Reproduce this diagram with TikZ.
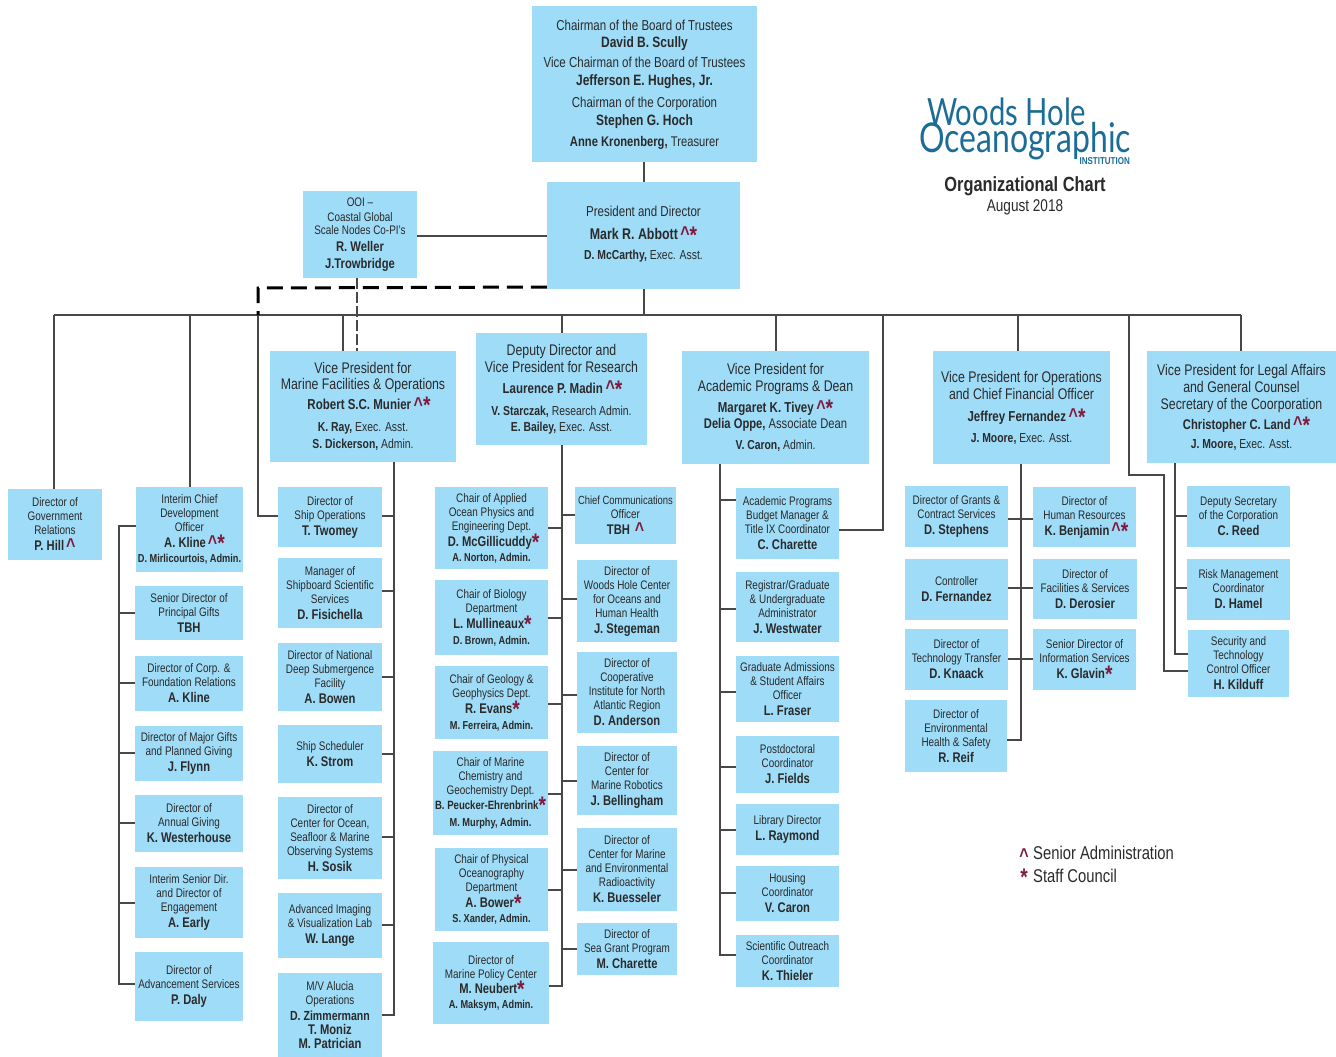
\documentclass[tikz,border=0pt]{standalone}
\usepackage{fontspec}
\setmainfont[FakeStretch=0.8]{Liberation Sans}
\newfontfamily\logofont[FakeStretch=0.78]{Lato}
\definecolor{boxblue}{HTML}{9FDCF8}
\definecolor{markred}{HTML}{7E1B3C}
\definecolor{linegray}{HTML}{484848}
\definecolor{txt}{HTML}{2A2A2A}
\definecolor{logoblue}{HTML}{1B6C97}
\newcommand\szs{\fontsize{12.4}{14}\selectfont}
\newcommand\szb{\fontsize{14.4}{17}\selectfont}
\newcommand\szv{\fontsize{15.4}{17}\selectfont}
\newcommand\nm[1]{{\bfseries\fontsize{14}{14}\selectfont #1}}
\newcommand\bn[1]{{\bfseries\fontsize{15}{15}\selectfont #1}}
\newcommand\bnv[1]{{\bfseries\fontsize{14.4}{15}\selectfont #1}}
\newcommand\ad[1]{{\bfseries\fontsize{11.5}{14}\selectfont #1}}
\newcommand\adb[1]{{\bfseries\fontsize{13}{14}\selectfont #1}}
\newcommand\adr[1]{{\fontsize{13}{14}\selectfont #1}}
\newcommand\mkA{\,\smash{\color{markred}\bfseries\fontsize{20}{15}\selectfont\raisebox{-1.5pt}{\textasciicircum}}}
\newcommand\mkS{\smash{\color{markred}\bfseries\fontsize{24}{15}\selectfont\raisebox{-4pt}{*}}}
\newcommand\sh[1]{\hspace*{#1pt}}
\newcommand\bx[7][]{\pgfmathsetmacro\bw{#5-#3}\pgfmathsetmacro\bh{#6-#4}%
  \node[boxst,minimum width=\bw pt,minimum height=\bh pt,#1] (#2) at ({(#3+#5)/2},{-(#4+#6)/2}) {#7};}
\newcommand\tk[3]{\draw[conn] (#1 |- 0,-#3) -- (#2 |- 0,-#3);}
\tikzset{
  x=1pt,y=1pt,
  boxst/.style={fill=boxblue,inner sep=0pt,align=center,text=txt,font=\szs},
  bigst/.style={font=\szb},
  vpst/.style={font=\szv},
  conn/.style={draw=linegray,line width=1.1pt},
  thindash/.style={draw=linegray,line width=1.1pt,dash pattern=on 11pt off 3pt},
  thickdash/.style={draw=black,line width=3pt,dash pattern=on 16pt off 8pt},
}
\begin{document}
\begin{tikzpicture}
\useasboundingbox (0,0) rectangle (1336,-1057);
% top
\bx[bigst]{chair}{532}{6}{757}{162}{Chairman of the Board of Trustees\\[0pt]\bn{David B. Scully}\\[3pt]Vice Chairman of the Board of Trustees\\[1pt]\bn{Jefferson E. Hughes, Jr.}\\[5pt]Chairman of the Corporation\\[1pt]\bn{Stephen G. Hoch}\\[4pt]{\bfseries\fontsize{14}{14}\selectfont Anne Kronenberg,} {\fontsize{14}{14}\selectfont Treasurer}\\[-15pt]\mbox{}}
\bx[bigst]{pres}{547}{182}{740}{289}{President and Director\\[6pt]{\bfseries\fontsize{15.5}{15}\selectfont Mark R. Abbott}\mkA\mkS\\[3pt]\adb{D. McCarthy,}\adr{ Exec. Asst.}\\[-11pt]\mbox{}}
\bx{ooi}{303}{191}{417}{278}{OOI --\\[1pt]Coastal Global\\[-1pt]Scale Nodes Co-PI's\\[3pt]\nm{R. Weller}\\[3pt]\nm{J.Trowbridge}}
% VPs
\bx[vpst]{vpm}{270}{351}{456}{462}{Vice President for\\[-1pt]Marine Facilities \& Operations\\[3pt]\sh{12}\bnv{Robert S.C. Munier}\mkA\mkS\\[5pt]\adb{K. Ray,}\adr{ Exec. Asst.}\\[0pt]\adb{S. Dickerson,}\adr{ Admin.}}
\bx[vpst]{dep}{476}{333}{647}{445}{Deputy Director and\\[0pt]Vice President for Research\\[4pt]\sh{2}\bnv{Laurence P. Madin}\mkA\mkS\\[5pt]\adb{V. Starczak,}\adr{ Research Admin.}\\[-1pt]\adb{E. Bailey,}\adr{ Exec. Asst.}}
\bx[vpst]{vpa}{682}{351}{869}{464}{Vice President for\\[0pt]Academic Programs \& Dean\\[4pt]\bnv{Margaret K. Tivey}\mkA\mkS\\[-1pt]{\bfseries\fontsize{14}{14}\selectfont Delia Oppe,}{\fontsize{14}{14}\selectfont\ Associate Dean}\\[4pt]\adb{V. Caron,}\adr{ Admin.}}
\bx[vpst]{vpo}{933}{351}{1110}{464}{Vice President for Operations\\[0pt]and Chief Financial Officer\\[5pt]\sh{10}\bnv{Jeffrey Fernandez}\mkA\mkS\\[4pt]\adb{J. Moore,}\adr{ Exec. Asst.}}
\bx[vpst]{vpl}{1147}{351}{1336}{463}{Vice President for Legal Affairs\\[0pt]and General Counsel\\[0pt]Secretary of the Coorporation\\[3pt]\sh{10}{\bfseries\fontsize{14}{15}\selectfont Christopher C. Land}\mkA\mkS\\[2pt]\adb{J. Moore,}\adr{ Exec. Asst.}}
% col 1
\bx{gov}{8}{489}{102}{560}{Director of\\Government\\Relations\\[2pt]\nm{P. Hill}\mkA}
% col 2
\bx{cdo}{136}{487}{243}{572}{Interim Chief\\Development\\Officer\\[2pt]\sh{10}\nm{A. Kline}\mkA\mkS\\[1pt]\ad{D. Mirlicourtois, Admin.}}
\bx{gifts}{135}{586}{243}{640}{Senior Director of\\Principal Gifts\\[2pt]\nm{TBH}}
\bx{corp}{135}{656}{243}{711}{Director of Corp. \&\\Foundation Relations\\[2pt]\nm{A. Kline}}
\bx{major}{135}{726}{243}{781}{Director of Major Gifts\\and Planned Giving\\[2pt]\nm{J. Flynn}}
\bx{annual}{135}{795}{243}{852}{Director of\\Annual Giving\\[2pt]\nm{K. Westerhouse}}
\bx{engage}{135}{867}{243}{938}{Interim Senior Dir.\\and Director of\\Engagement\\[2pt]\nm{A. Early}}
\bx{advance}{135}{952}{243}{1021}{Director of\\Advancement Services\\[2pt]\nm{P. Daly}}
% col 3
\bx{ship}{278}{487}{382}{547}{Director of\\Ship Operations\\[2pt]\nm{T. Twomey}}
\bx{shipb}{278}{558}{382}{628}{Manager of\\Shipboard Scientific\\Services\\[2pt]\nm{D. Fisichella}}
\bx{deep}{278}{643}{382}{711}{Director of National\\Deep Submergence\\Facility\\[2pt]\nm{A. Bowen}}
\bx{sched}{278}{725}{382}{783}{Ship Scheduler\\[2pt]\nm{K. Strom}}
\bx{seafl}{278}{797}{382}{879}{Director of\\Center for Ocean,\\Seafloor \& Marine\\Observing Systems\\[2pt]\nm{H. Sosik}}
\bx{imag}{278}{893}{382}{958}{Advanced Imaging\\\& Visualization Lab\\[2pt]\nm{W. Lange}}
\bx{alucia}{278}{973}{382}{1057}{M/V Alucia\\Operations\\[2pt]{\bfseries\fontsize{13.2}{14}\selectfont D. Zimmermann}\\\nm{T. Moniz}\\\nm{M. Patrician}}
% col 4
\bx{aope}{435}{487}{548}{569}{Chair of Applied\\Ocean Physics and\\Engineering Dept.\\[2pt]\sh{4}\nm{D. McGillicuddy}\mkS\\[1pt]\ad{A. Norton, Admin.}}
\bx{bio}{435}{580}{548}{655}{Chair of Biology\\Department\\[2pt]\sh{2}\nm{L. Mullineaux}\mkS\\[2pt]\ad{D. Brown, Admin.}}
\bx{geo}{435}{666}{548}{739}{Chair of Geology \&\\Geophysics Dept.\\[2pt]\sh{2}\nm{R. Evans}\mkS\\[2pt]\ad{M. Ferreira, Admin.}}
\bx{mchem}{433}{751}{548}{835}{Chair of Marine\\Chemistry and\\Geochemistry Dept.\\[1pt]{\bfseries\fontsize{12}{14}\selectfont B. Peucker-Ehrenbrink}\mkS\\[3pt]\ad{M. Murphy, Admin.}}
\bx{phys}{435}{848}{548}{931}{Chair of Physical\\Oceanography\\Department\\[2pt]\sh{4}\nm{A. Bower}\mkS\\[1pt]\ad{S. Xander, Admin.}}
\bx{mpol}{433}{942}{549}{1024}{Director of\\Marine Policy Center\\[1pt]\sh{2}\nm{M. Neubert}\mkS\\[1pt]\ad{A. Maksym, Admin.}}
% col 5
\bx{comm}{575}{487}{676}{544}{{\fontsize{11.8}{14}\selectfont Chief Communications}\\Officer\\[2pt]\nm{TBH} \mkA}
\bx{wh}{577}{560}{677}{642}{Director of\\Woods Hole Center\\for Oceans and\\Human Health\\[2pt]\nm{J. Stegeman}}
\bx{coop}{577}{652}{677}{733}{Director of\\Cooperative\\Institute for North\\Atlantic Region\\[2pt]\nm{D. Anderson}}
\bx{robo}{577}{746}{677}{815}{Director of\\Center for\\Marine Robotics\\[2pt]\nm{J. Bellingham}}
\bx{radio}{577}{828}{677}{911}{Director of\\Center for Marine\\and Environmental\\Radioactivity\\[2pt]\nm{K. Buesseler}}
\bx{sea}{577}{923}{677}{975}{Director of\\Sea Grant Program\\[2pt]\nm{M. Charette}}
% col 6
\bx{acad}{736}{488}{839}{559}{Academic Programs\\Budget Manager \&\\Title IX Coordinator\\[2pt]\nm{C. Charette}}
\bx{reg}{736}{572}{839}{642}{Registrar/Graduate\\\& Undergraduate\\Administrator\\[2pt]\nm{J. Westwater}}
\bx{grad}{736}{656}{839}{722}{Graduate Admissions\\\& Student Affairs\\Officer\\[2pt]\nm{L. Fraser}}
\bx{post}{736}{736}{839}{793}{Postdoctoral\\Coordinator\\[2pt]\nm{J. Fields}}
\bx{lib}{736}{804}{839}{855}{Library Director\\[2pt]\nm{L. Raymond}}
\bx{hous}{736}{866}{839}{921}{Housing\\Coordinator\\[2pt]\nm{V. Caron}}
\bx{sci}{736}{935}{839}{987}{Scientific Outreach\\Coordinator\\[2pt]\nm{K. Thieler}}
% col 7, 8
\bx{grants}{905}{486}{1008}{547}{Director of Grants \&\\Contract Services\\[2pt]\nm{D. Stephens}}
\bx{ctrl}{905}{559}{1008}{620}{Controller\\[2pt]\nm{D. Fernandez}}
\bx{tech}{905}{629}{1008}{690}{Director of\\Technology Transfer\\[2pt]\nm{D. Knaack}}
\bx{env}{905}{700}{1007}{772}{Director of\\Environmental\\Health \& Safety\\[2pt]\nm{R. Reif}}
\bx{hr}{1033}{487}{1136}{547}{Director of\\Human Resources\\[2pt]\sh{4}\nm{K. Benjamin}\mkA\mkS}
\bx{fac}{1033}{559}{1137}{619}{Director of\\Facilities \& Services\\[2pt]\nm{D. Derosier}}
\bx{info}{1033}{629}{1136}{690}{Senior Director of\\Information Services\\[2pt]\nm{K. Glavin}\mkS}
% col 9
\bx{dsec}{1187}{486}{1290}{547}{Deputy Secretary\\of the Corporation\\[2pt]\nm{C. Reed}}
\bx{risk}{1187}{559}{1290}{620}{Risk Management\\Coordinator\\[2pt]\nm{D. Hamel}}
\bx{sec}{1188}{630}{1289}{697}{Security and\\Technology\\Control Officer\\[2pt]\nm{H. Kilduff}}
% logo & titles
\node[text=logoblue,font=\logofont\fontsize{37.5}{37}\selectfont,anchor=base west,inner sep=0pt] (logoa) at (927,-125) {Woods Hole};
\node[text=logoblue,font=\logofont\fontsize{41}{41}\selectfont,anchor=base west,inner sep=0pt] (logob) at (919,-152) {Oceanographic};
\node[text=logoblue,font=\bfseries\fontsize{10}{10}\selectfont,anchor=base east,inner sep=0pt] (logoc) at (1130,-164) {INSTITUTION};
\node[text=txt,font=\bfseries\fontsize{20.5}{20}\selectfont,inner sep=0pt] (title) at (1025,-186) {Organizational Chart};
\node[text=txt,font=\fontsize{17}{15}\selectfont,inner sep=0pt] (date) at (1025,-207) {August 2018};
\node[text=txt,font=\fontsize{18.5}{17}\selectfont,anchor=base west,inner sep=0pt] (lega) at (1033,-859) {Senior Administration};
\node[text=txt,font=\fontsize{18.5}{17}\selectfont,anchor=base west,inner sep=0pt] (legb) at (1033,-882) {Staff Council};
\node[anchor=base east,inner sep=0pt] (lma) at (1029,-861) {\mkA};
\node[anchor=base east,inner sep=0pt] (lmb) at (1028,-881) {\mkS};
% named coordinates
\foreach \n/\x in {bA/54,bB/190,bC/258,bD/343,bE/357,bF/562,bG/776,bH/883,bI/1018,bJ/1129,bK/1241,tA/119,tB/394,tC/562,tD/720,tE/1021,tF/1175,tG/1164,pT/644}
  \coordinate (\n) at (\x,-315);
% connectors
\draw[conn] (chair.south -| pT) -- (pres.north -| pT);
\draw[conn] (pres.south -| pT) -- (pT);
\draw[conn] (ooi.east |- 0,-236) -- (pres.west |- 0,-236);
\draw[conn] (bA) -- (bK);
\draw[conn] (bA) -- (gov.north -| bA);
\draw[conn] (bB) -- (cdo.north -| bB);
\draw[conn] (bC) -- (bC |- 0,-516) -- (ship.west |- 0,-516);
\draw[conn] (bD) -- (vpm.north -| bD);
\draw[thindash] (ooi.south -| bE) -- (vpm.north -| bE);
\draw[conn] (bF) -- (dep.north -| bF);
\draw[conn] (bG) -- (vpa.north -| bG);
\draw[conn] (bH) -- (bH |- 0,-530) -- (acad.east |- 0,-530);
\draw[conn] (bI) -- (vpo.north -| bI);
\draw[conn] (bJ) -- (bJ |- 0,-475) -- (tG |- 0,-475) -- (tG |- 0,-671) -- (sec.west |- 0,-671);
\draw[conn] (bK) -- (vpl.north -| bK);
\draw[thickdash] (pres.west |- 0,-287) -- (bC |- 0,-288) -- (bC);
% CDO trunk
\draw[conn] (cdo.west |- 0,-526) -- (tA |- 0,-526) -- (tA |- 0,-984) -- (advance.west |- 0,-984);
\tk{gifts.west}{tA}{613}\tk{corp.west}{tA}{683}\tk{major.west}{tA}{753}\tk{annual.west}{tA}{823}\tk{engage.west}{tA}{903}
% marine trunk
\draw[conn] (vpm.south -| tB) -- (tB |- 0,-1015) -- (alucia.east |- 0,-1015);
\tk{ship.east}{tB}{516}\tk{shipb.east}{tB}{591}\tk{deep.east}{tB}{677}\tk{sched.east}{tB}{754}\tk{seafl.east}{tB}{837}\tk{imag.east}{tB}{925}
% deputy trunk
\draw[conn] (dep.south -| tC) -- (tC |- 0,-986) -- (mpol.east |- 0,-986);
\tk{aope.east}{tC}{528}\tk{bio.east}{tC}{618}\tk{geo.east}{tC}{704}\tk{mchem.east}{tC}{794}\tk{phys.east}{tC}{890}
\tk{comm.west}{tC}{515}\tk{wh.west}{tC}{599}\tk{coop.west}{tC}{695}\tk{robo.west}{tC}{781}\tk{radio.west}{tC}{870}\tk{sea.west}{tC}{949}
% academic trunk
\draw[conn] (vpa.south -| tD) -- (tD |- 0,-955) -- (sci.west |- 0,-955);
\tk{acad.west}{tD}{500}\tk{reg.west}{tD}{609}\tk{grad.west}{tD}{692}\tk{post.west}{tD}{767}\tk{lib.west}{tD}{830}\tk{hous.west}{tD}{893}
% ops trunk
\draw[conn] (vpo.south -| tE) -- (tE |- 0,-740) -- (env.east |- 0,-740);
\draw[conn] (grants.east |- 0,-519) -- (hr.west |- 0,-519);
\draw[conn] (ctrl.east |- 0,-588) -- (fac.west |- 0,-588);
\draw[conn] (tech.east |- 0,-659) -- (info.west |- 0,-659);
% legal trunk
\draw[conn] (vpl.south -| tF) -- (tF |- 0,-654) -- (sec.west |- 0,-654);
\tk{dsec.west}{tF}{516}\tk{risk.west}{tF}{588}
\end{tikzpicture}
\end{document}
